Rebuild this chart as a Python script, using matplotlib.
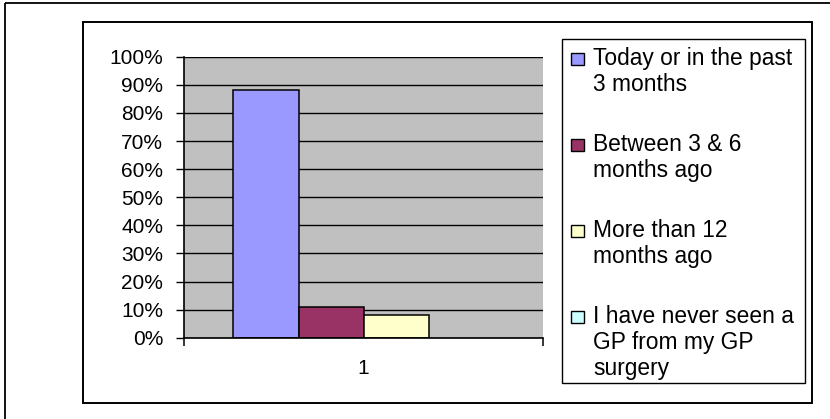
import matplotlib
matplotlib.use("Agg")
import matplotlib.pyplot as plt
from matplotlib.patches import Rectangle
from matplotlib.transforms import Affine2D

# ---- data ----
categories = ["1"]
series_labels = [
    "Today or in the past\n3 months",
    "Between 3 & 6\nmonths ago",
    "More than 12\nmonths ago",
    "I have never seen a\nGP from my GP\nsurgery",
]
series_values = [0.88, 0.11, 0.08, 0.0]
series_colors = ["#9999FF", "#993366", "#FFFFCC", "#CCFFFF"]
y_ticks = [0.0, 0.1, 0.2, 0.3, 0.4, 0.5, 0.6, 0.7, 0.8, 0.9, 1.0]
y_tick_labels = ["0%", "10%", "20%", "30%", "40%", "50%", "60%", "70%", "80%", "90%", "100%"]

plt.rcParams['font.family'] = ['Liberation Sans', 'DejaVu Sans']

W, H = 830, 419
fig = plt.figure(figsize=(W / 100, H / 100), dpi=100)
fig.patch.set_facecolor("white")
px = Affine2D().scale(1 / W, -1 / H).translate(0, 1) + fig.transFigure


def px_rect(x0, y0, x1, y1):
    return [x0 / W, 1 - y1 / H, (x1 - x0) / W, (y1 - y0) / H]


# outer frame and chart-area frame
fig.patches.append(Rectangle((5, 3), 840, 430, transform=px, fill=False,
                             edgecolor="black", linewidth=1.3))
fig.patches.append(Rectangle((83, 22), 729, 381, transform=px, fill=False,
                             edgecolor="black", linewidth=1.4))

ax = fig.add_axes(px_rect(184, 56.7, 543, 337.7))
ax.set_facecolor("#C0C0C0")
ax.set_xlim(0.5, 1.5)
ax.set_ylim(0, 1)

n = len(series_values)
width = 65 / 359
for i, (v, c) in enumerate(zip(series_values, series_colors)):
    if v > 0:
        ax.bar(1 + (i - (n - 1) / 2) * width, v, width=width, color=c,
               edgecolor="black", linewidth=1.1, zorder=3)

ax.set_axisbelow(True)
ax.yaxis.grid(True, color="black", linewidth=1.0)
for s in ["top", "right"]:
    ax.spines[s].set_visible(False)
for s in ["left", "bottom"]:
    ax.spines[s].set_color("black")
    ax.spines[s].set_linewidth(1.2)
    ax.spines[s].set_zorder(4)

ax.set_yticks(y_ticks, y_tick_labels)
ax.tick_params(axis="y", direction="out", length=6, width=1.0, pad=9.0,
               labelsize=15)
ax.set_xticks([0.5, 1.5], ["", ""])
ax.tick_params(axis="x", which="major", direction="out", length=5.5, width=1.1)
ax.set_xticks([1], categories, minor=True)
ax.tick_params(axis="x", which="minor", length=0, pad=15, labelsize=15)

# legend
fig.patches.append(Rectangle((562, 39), 243, 344, transform=px, fill=False,
                             edgecolor="black", linewidth=1.0))
first_base = 65.3
entry_step = 86.0
line_step = 25.8
for i, (lab, c) in enumerate(zip(series_labels, series_colors)):
    b = first_base + i * entry_step
    fig.patches.append(Rectangle((571, b - 12.6), 12.6, 12.6, transform=px,
                                 facecolor=c, edgecolor="black", linewidth=1.0))
    for j, line in enumerate(lab.split("\n")):
        fig.text(593, b + j * line_step, line, transform=px, fontsize=16.4,
                 ha="left", va="baseline")

fig.savefig("out.png", dpi=100)
